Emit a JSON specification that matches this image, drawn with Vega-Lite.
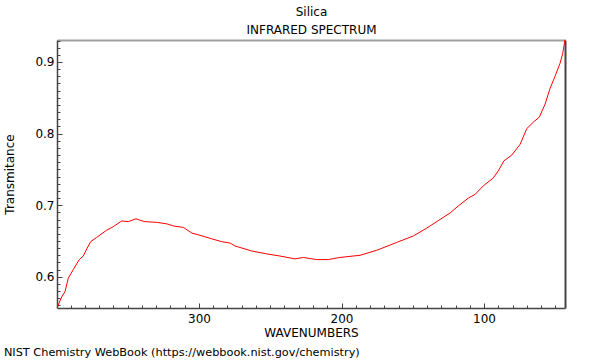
{
  "$schema": "https://vega.github.io/schema/vega-lite/v6.json",
  "width": 508,
  "height": 268,
  "autosize": {"type": "none"},
  "padding": {"left": 57, "top": 40, "right": 35, "bottom": 52},
  "background": "white",
  "config": {
    "font": "DejaVu Sans",
    "view": {"stroke": null},
    "axis": {"grid": false, "labelFont": "DejaVu Sans", "titleFont": "DejaVu Sans", "labelFontSize": 12, "titleFontSize": 12, "titleFontWeight": "normal", "labelColor": "#000", "titleColor": "#000", "domainColor": "#444", "tickColor": "#444"}
  },
  "title": {"text": "NIST Chemistry WebBook (https://webbook.nist.gov/chemistry)", "orient": "bottom", "anchor": "start", "frame": "bounds", "fontSize": 11.3, "fontWeight": "normal", "color": "#000", "font": "DejaVu Sans", "offset": 9},
  "data": {"values": [
    {"wavenumber": 399.5, "transmittance": 0.557},
    {"wavenumber": 396.3, "transmittance": 0.572},
    {"wavenumber": 394.0, "transmittance": 0.579},
    {"wavenumber": 391.7, "transmittance": 0.598},
    {"wavenumber": 388.2, "transmittance": 0.610},
    {"wavenumber": 384.0, "transmittance": 0.624},
    {"wavenumber": 381.2, "transmittance": 0.629},
    {"wavenumber": 378.4, "transmittance": 0.640},
    {"wavenumber": 376.0, "transmittance": 0.649},
    {"wavenumber": 371.8, "transmittance": 0.655},
    {"wavenumber": 364.8, "transmittance": 0.665},
    {"wavenumber": 360.1, "transmittance": 0.670},
    {"wavenumber": 354.2, "transmittance": 0.678},
    {"wavenumber": 349.6, "transmittance": 0.677},
    {"wavenumber": 344.2, "transmittance": 0.681},
    {"wavenumber": 341.4, "transmittance": 0.679},
    {"wavenumber": 337.9, "transmittance": 0.677},
    {"wavenumber": 329.7, "transmittance": 0.676},
    {"wavenumber": 322.7, "transmittance": 0.674},
    {"wavenumber": 318.0, "transmittance": 0.671},
    {"wavenumber": 311.0, "transmittance": 0.669},
    {"wavenumber": 305.0, "transmittance": 0.661},
    {"wavenumber": 299.3, "transmittance": 0.658},
    {"wavenumber": 291.0, "transmittance": 0.653},
    {"wavenumber": 284.0, "transmittance": 0.649},
    {"wavenumber": 278.0, "transmittance": 0.647},
    {"wavenumber": 274.7, "transmittance": 0.643},
    {"wavenumber": 263.0, "transmittance": 0.636},
    {"wavenumber": 252.5, "transmittance": 0.632},
    {"wavenumber": 243.2, "transmittance": 0.629},
    {"wavenumber": 232.6, "transmittance": 0.625},
    {"wavenumber": 226.8, "transmittance": 0.627},
    {"wavenumber": 217.4, "transmittance": 0.624},
    {"wavenumber": 209.3, "transmittance": 0.624},
    {"wavenumber": 201.1, "transmittance": 0.627},
    {"wavenumber": 187.0, "transmittance": 0.630},
    {"wavenumber": 175.3, "transmittance": 0.637},
    {"wavenumber": 161.3, "transmittance": 0.648},
    {"wavenumber": 149.6, "transmittance": 0.657},
    {"wavenumber": 140.2, "transmittance": 0.668},
    {"wavenumber": 130.9, "transmittance": 0.680},
    {"wavenumber": 123.9, "transmittance": 0.689},
    {"wavenumber": 118.0, "transmittance": 0.699},
    {"wavenumber": 111.0, "transmittance": 0.710},
    {"wavenumber": 106.3, "transmittance": 0.715},
    {"wavenumber": 100.5, "transmittance": 0.727},
    {"wavenumber": 93.5, "transmittance": 0.738},
    {"wavenumber": 90.0, "transmittance": 0.748},
    {"wavenumber": 86.0, "transmittance": 0.762},
    {"wavenumber": 80.5, "transmittance": 0.770},
    {"wavenumber": 74.7, "transmittance": 0.785},
    {"wavenumber": 70.0, "transmittance": 0.807},
    {"wavenumber": 65.4, "transmittance": 0.816},
    {"wavenumber": 61.2, "transmittance": 0.823},
    {"wavenumber": 57.2, "transmittance": 0.841},
    {"wavenumber": 53.7, "transmittance": 0.863},
    {"wavenumber": 50.2, "transmittance": 0.880},
    {"wavenumber": 46.7, "transmittance": 0.898},
    {"wavenumber": 44.8, "transmittance": 0.912},
    {"wavenumber": 43.2, "transmittance": 0.931}
  ]},
  "layer": [
    {
      "mark": {"type": "line", "strokeOpacity": 0},
      "encoding": {
        "x": {"field": "wavenumber", "type": "quantitative", "scale": {"domain": [399.6, 43.2], "nice": false, "zero": false},
          "axis": {"orient": "bottom", "values": [50,60,70,80,90,110,120,130,140,150,160,170,180,190,210,220,230,240,250,260,270,280,290,310,320,330,340,350,360,370,380,390], "tickSize": -3, "labels": false, "domain": false, "title": null}},
        "y": {"field": "transmittance", "type": "quantitative", "scale": {"domain": [0.5564, 0.9307], "nice": false, "zero": false},
          "axis": {"orient": "left", "values": [0.56,0.57,0.58,0.59,0.61,0.62,0.63,0.64,0.65,0.66,0.67,0.68,0.69,0.71,0.72,0.73,0.74,0.75,0.76,0.77,0.78,0.79,0.81,0.82,0.83,0.84,0.85,0.86,0.87,0.88,0.89,0.91,0.92,0.93], "tickSize": -3, "labels": false, "domain": false, "title": null}}
      }
    },
    {
      "mark": {"type": "line", "strokeOpacity": 0},
      "encoding": {
        "x": {"field": "wavenumber", "type": "quantitative", "scale": {"domain": [399.6, 43.2], "nice": false, "zero": false},
          "axis": {"orient": "top", "ticks": false, "labels": false, "domainColor": "#a0a0a0", "domainWidth": 2, "title": ["Silica", "INFRARED SPECTRUM"], "titleLineHeight": 18, "titlePadding": 4}},
        "y": {"field": "transmittance", "type": "quantitative", "scale": {"domain": [0.5564, 0.9307], "nice": false, "zero": false},
          "axis": {"orient": "right", "ticks": false, "labels": false, "domainColor": "#444", "domainWidth": 2, "title": null}}
      }
    },
    {
      "mark": {"type": "line", "color": "#ff0000", "strokeWidth": 1},
      "encoding": {
        "x": {"field": "wavenumber", "type": "quantitative", "scale": {"domain": [399.6, 43.2], "nice": false, "zero": false},
          "axis": {"orient": "bottom", "values": [100, 200, 300], "tickSize": -5, "labelPadding": 10, "domainWidth": 1.5, "title": "WAVENUMBERS", "titlePadding": 3}},
        "y": {"field": "transmittance", "type": "quantitative", "scale": {"domain": [0.5564, 0.9307], "nice": false, "zero": false},
          "axis": {"orient": "left", "values": [0.6, 0.7, 0.8, 0.9], "tickSize": -5, "labelPadding": 8, "domainWidth": 1.5, "title": "Transmitance", "titlePadding": 18}}
      }
    }
  ],
  "resolve": {"axis": {"x": "independent", "y": "independent"}}
}
